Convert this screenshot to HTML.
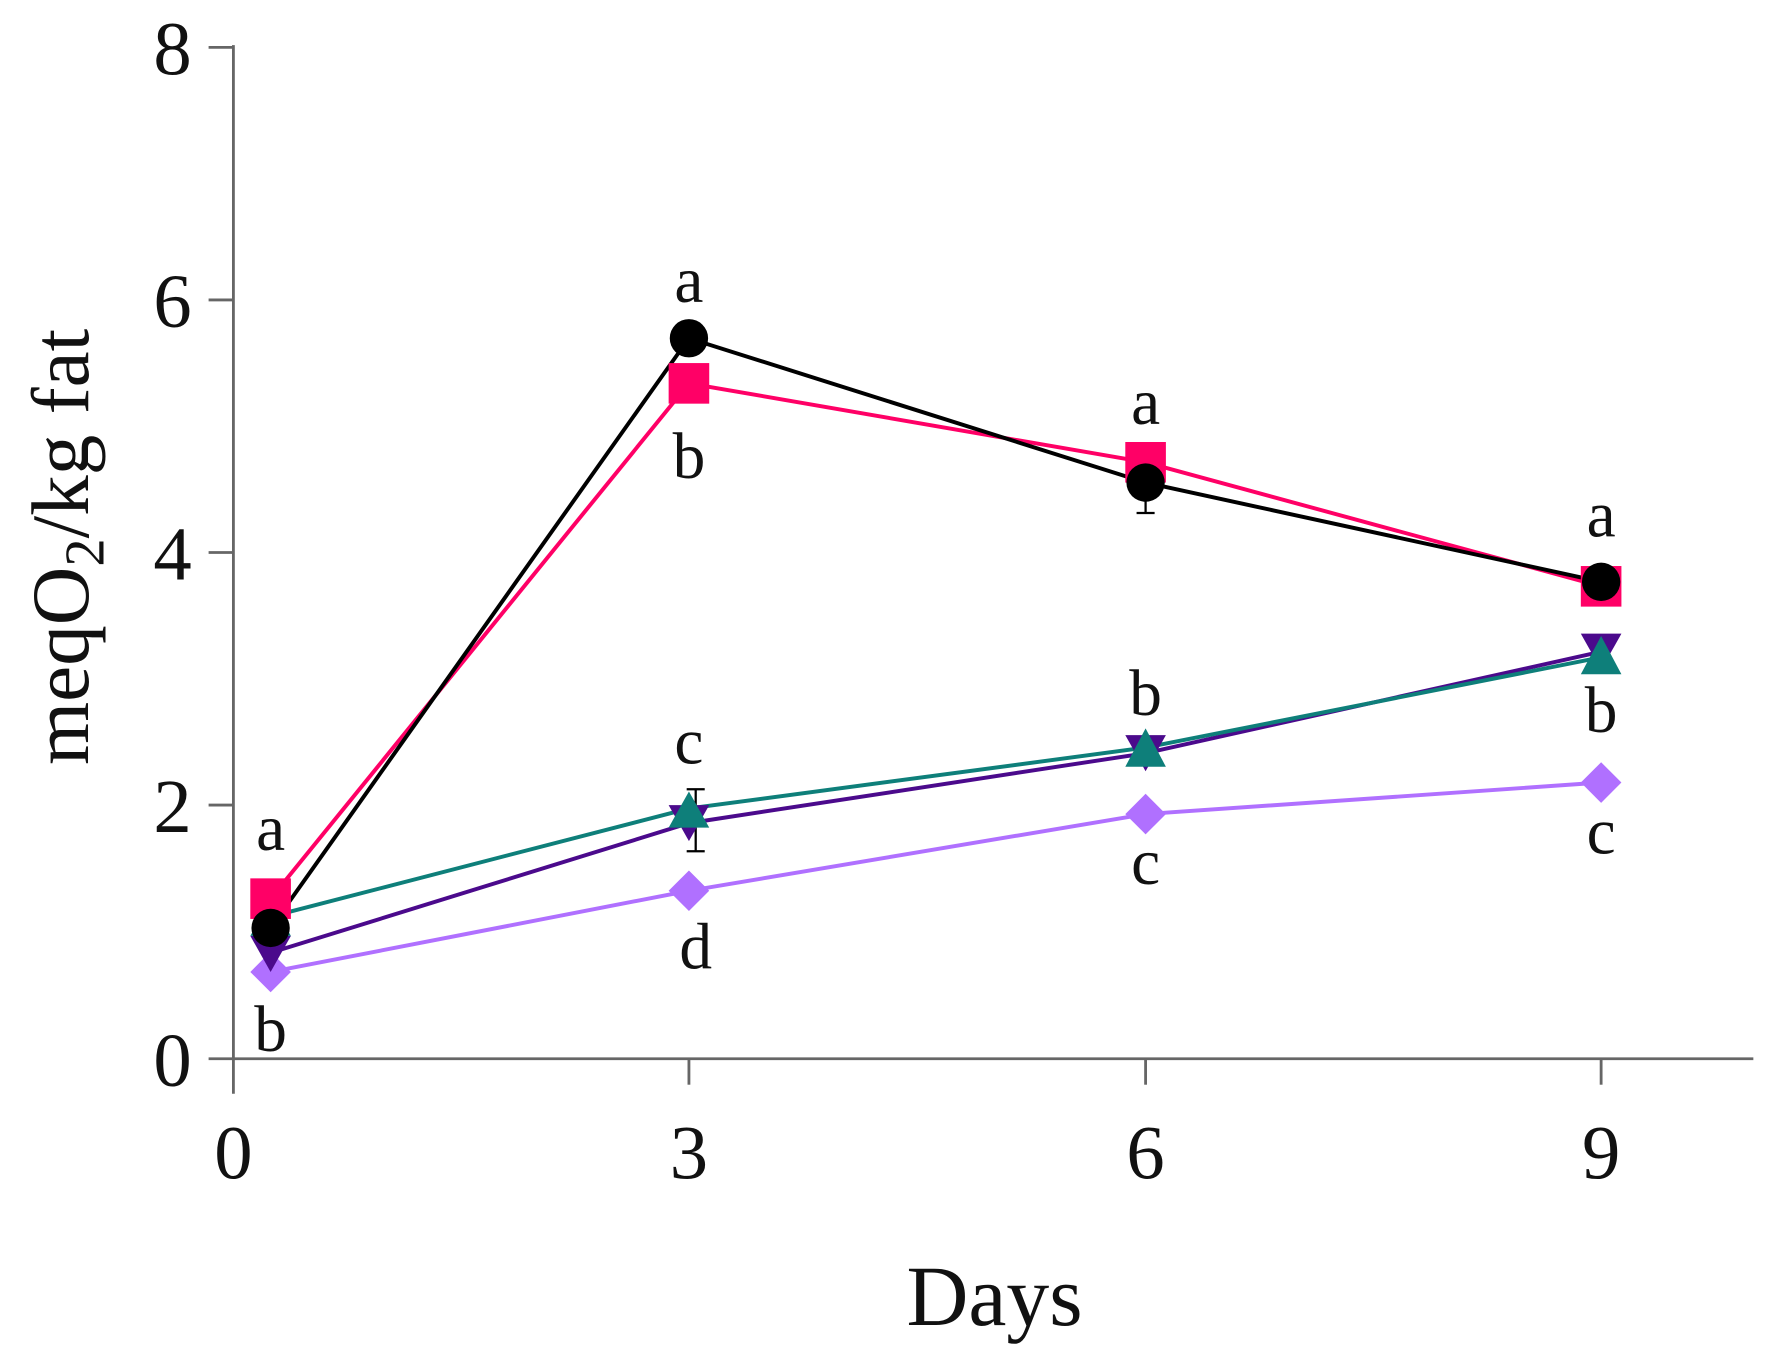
<!DOCTYPE html>
<html><head><meta charset="utf-8"><style>html,body{margin:0;padding:0;background:#fff}svg{display:block}</style></head>
<body>
<svg width="1768" height="1364" viewBox="0 0 1568 1209.7" xmlns="http://www.w3.org/2000/svg" font-family="Liberation Serif, serif">
<g stroke="#666" stroke-width="2.5" fill="none">
<line x1="207" y1="40" x2="207" y2="970"/>
<line x1="185" y1="939" x2="1555" y2="939"/>
<line x1="185" y1="42" x2="207" y2="42"/>
<line x1="185" y1="266" x2="207" y2="266"/>
<line x1="185" y1="490" x2="207" y2="490"/>
<line x1="185" y1="714" x2="207" y2="714"/>
<line x1="611" y1="939" x2="611" y2="962"/>
<line x1="1016" y1="939" x2="1016" y2="962"/>
<line x1="1420" y1="939" x2="1420" y2="962"/>
</g>
<g font-size="68" fill="#111" text-anchor="end">
<text x="170" y="66">8</text><text x="170" y="290">6</text><text x="170" y="514">4</text><text x="170" y="738">2</text><text x="170" y="963">0</text>
</g>
<g font-size="68" fill="#111" text-anchor="middle">
<text x="207" y="1045">0</text><text x="611" y="1045">3</text><text x="1016" y="1045">6</text><text x="1420" y="1045">9</text>
</g>
<text x="882" y="1175" font-size="76" text-anchor="middle" fill="#111">Days</text>
<text transform="translate(78,485) rotate(-90)" font-size="72" text-anchor="middle" fill="#111">meqO<tspan font-size="50" dy="14">2</tspan><tspan dy="-14">/kg fat</tspan></text>
<g fill="none" stroke-width="3.5">
<polyline stroke="#b070ff" points="240,862 611,790 1016,722 1420,694"/>
<polyline stroke="#4b0a8c" points="240,845 611,730 1016,668 1420,578"/>
<polyline stroke="#0e7f7a" points="240,813 611,717 1016,663 1420,583"/>
<polyline stroke="#ff0066" points="240,797 611,340 1016,410 1420,520"/>
<polyline stroke="#000" points="240,823 611,300 1016,428 1420,516"/>
</g>
<g stroke="#000" stroke-width="2">
<line x1="240" y1="785" x2="240" y2="855"/><line x1="232" y1="785" x2="248" y2="785"/>
<line x1="617" y1="700" x2="617" y2="755"/><line x1="609" y1="700" x2="625" y2="700"/><line x1="609" y1="755" x2="625" y2="755"/>
<line x1="1016" y1="400" x2="1016" y2="455"/><line x1="1008" y1="455" x2="1024" y2="455"/>
</g>
<g fill="#b070ff">
<polygon points="240,844 258,862 240,880 222,862"/><polygon points="611,772 629,790 611,808 593,790"/>
<polygon points="1016,704 1034,722 1016,740 998,722"/><polygon points="1420,676 1438,694 1420,712 1402,694"/>
</g>
<g fill="#4b0a8c">
<polygon points="222,830 258,830 240,862"/><polygon points="593,714 629,714 611,746"/>
<polygon points="998,652 1034,652 1016,684"/><polygon points="1402,562 1438,562 1420,594"/>
</g>
<g fill="#0e7f7a">
<polygon points="222,830 258,830 240,798"/><polygon points="593,734 629,734 611,702"/>
<polygon points="998,680 1034,680 1016,646"/><polygon points="1402,598 1438,598 1420,564"/>
</g>
<g fill="#ff0066">
<rect x="222" y="779" width="36" height="36"/><rect x="593" y="322" width="36" height="36"/>
<rect x="998" y="392" width="36" height="36"/><rect x="1402" y="502" width="36" height="36"/>
</g>
<g fill="#000">
<circle cx="240" cy="823" r="17"/><circle cx="611" cy="300" r="17"/>
<circle cx="1016" cy="428" r="17"/><circle cx="1420" cy="516" r="17"/>
</g>
<g font-size="58" fill="#111" text-anchor="middle">
<text x="240" y="754">a</text><text x="240" y="932">b</text>
<text x="611" y="268">a</text><text x="611" y="424">b</text><text x="611" y="677">c</text><text x="617" y="859">d</text>
<text x="1016" y="376">a</text><text x="1016" y="634">b</text><text x="1016" y="784">c</text>
<text x="1420" y="476">a</text><text x="1420" y="649">b</text><text x="1420" y="757">c</text>
</g>
</svg>
</body></html>
